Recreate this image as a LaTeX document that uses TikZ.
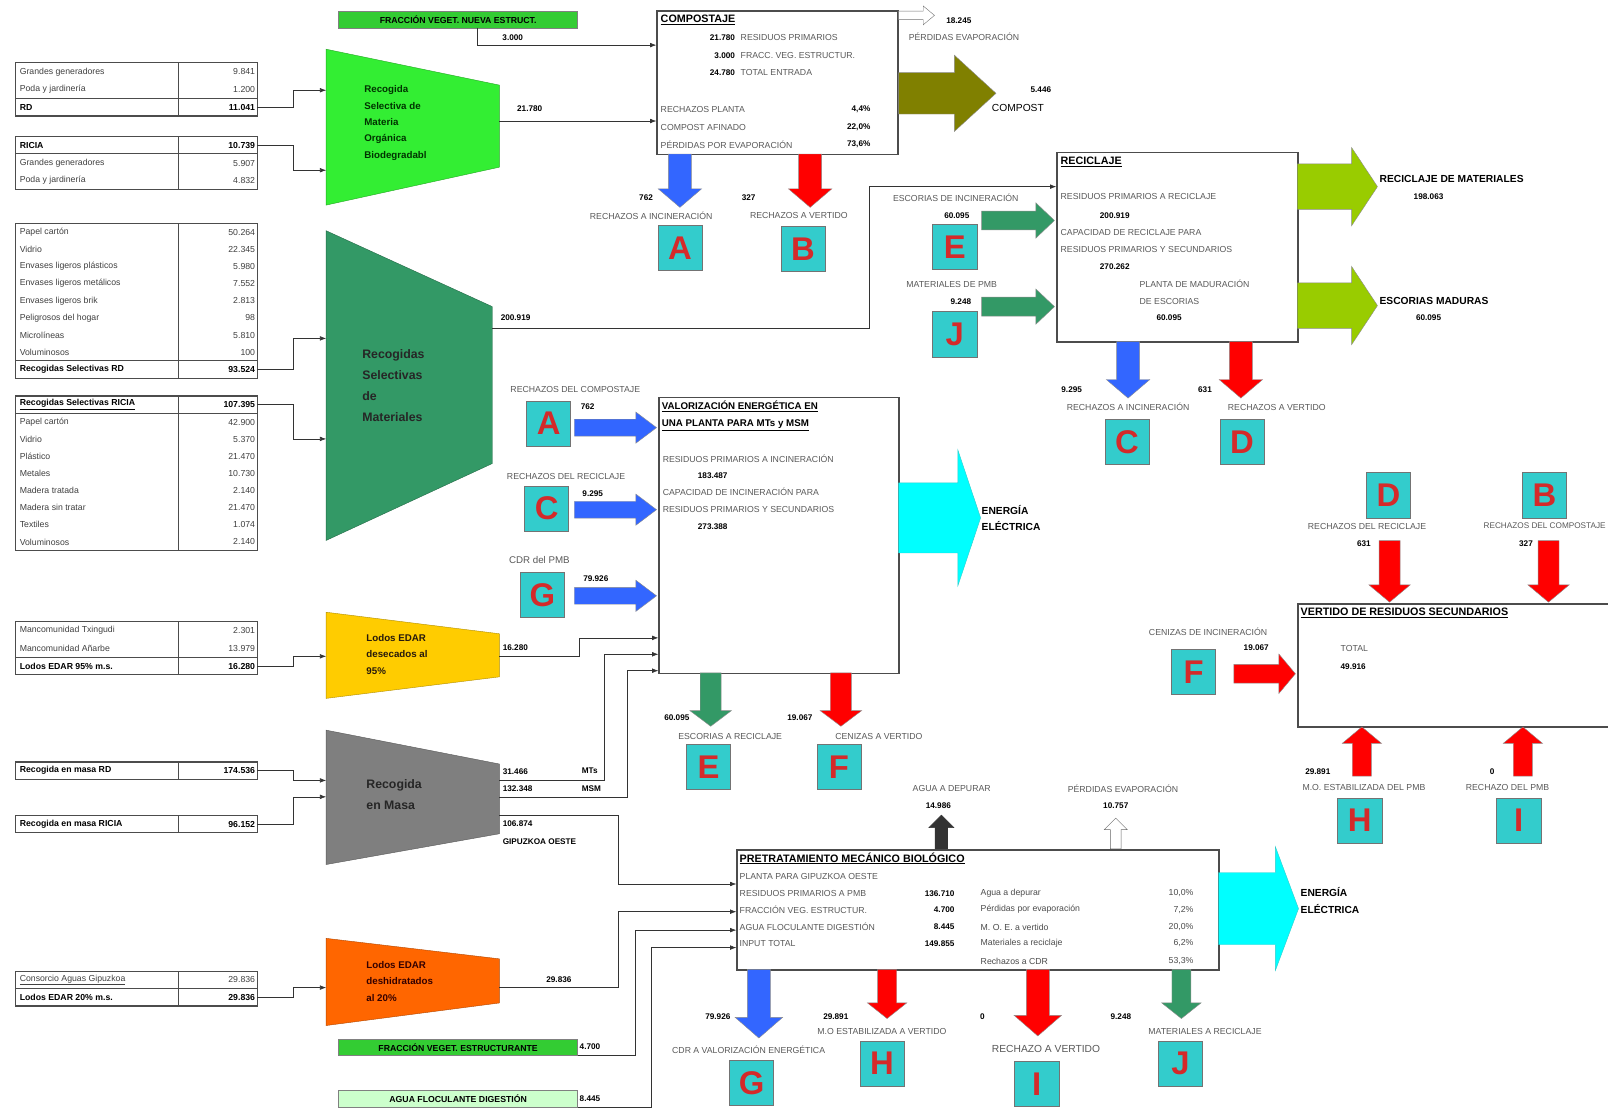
\documentclass[tikz,border=0pt]{standalone}
\usepackage{fontspec}
\setmainfont{Liberation Sans}
\usetikzlibrary{arrows.meta, positioning, shapes.arrows}
\definecolor{cmo}{HTML}{33EE33}
\definecolor{cfrac}{HTML}{33CC33}
\definecolor{cfloc}{HTML}{CCFFCC}
\definecolor{csea}{HTML}{339966}
\definecolor{cyel}{HTML}{FFCC00}
\definecolor{cgray}{HTML}{7F7F7F}
\definecolor{corg}{HTML}{FF6600}
\definecolor{colive}{HTML}{808000}
\definecolor{clime}{HTML}{99CC00}
\definecolor{ccyan}{HTML}{00FFFF}
\definecolor{cblue}{HTML}{3366FF}
\definecolor{cred}{HTML}{FF0000}
\definecolor{cteal}{HTML}{33CCCC}
\definecolor{cletter}{HTML}{D42A2A}
\definecolor{cdark}{HTML}{333333}
\tikzset{
  every picture/.style={line width=0.6pt},
  cell/.style={anchor=west, inner sep=1pt, text=black!75, font=\fontsize{8.5}{9}\selectfont},
  cellb/.style={cell, text=black, font=\fontsize{8.5}{9}\selectfont\bfseries},
  cellv/.style={cell, anchor=east, inner sep=2pt},
  cellbv/.style={cellb, anchor=east, inner sep=2pt},
  tbl/.style={draw=black!70, line width=1.3pt},
  tabsep/.style={draw=black!70, line width=1pt},
  lbl/.style={inner sep=1pt, text=black!65, font=\fontsize{8.5}{9}\selectfont},
  num/.style={inner sep=1pt, font=\fontsize{8}{9}\selectfont\bfseries},
  ttl/.style={anchor=west, inner sep=1pt, font=\fontsize{10.5}{12}\selectfont\bfseries},
  trap/.style={anchor=west, align=left, inner sep=0pt, font=\fontsize{9.5}{16}\selectfont\bfseries},
  proc/.style={draw=black!70, line width=1.5pt, fill=white, anchor=north west, inner sep=0pt},
  letterbox/.style={draw=black!55, line width=0.6pt, fill=cteal, minimum width=43, minimum height=44, inner sep=0pt, text=cletter, font=\fontsize{32}{32}\selectfont\bfseries},
  conn/.style={-{Latex[length=6pt, width=4.5pt]}, draw=black!80, line width=0.6pt},
  barrow/.style n args={4}{single arrow, anchor=tail, draw=black!45, line width=0.4pt,
    inner xsep=0pt, inner ysep=#2, minimum height=#1,
    single arrow head extend=#3, single arrow tip angle=#4},
  tagbox/.style={draw=black!50, line width=0.5pt, anchor=north west, inner sep=0pt, minimum width=233, minimum height=16},
}
\begin{document}
\begin{tikzpicture}[x=1pt, y=-1pt,
  big/.style={anchor=west, inner sep=1pt, font=\fontsize{10}{16}\selectfont\bfseries, align=left},
  mixed/.style={anchor=west, inner sep=1pt, text=black!70, font=\fontsize{8.5}{9}\selectfont}]
  \fill[white] (0,0) rectangle (1568,1081);
  \useasboundingbox (0,0) rectangle (1568,1081);

  % source tables
  \draw[tbl] (15,61) rectangle (251,113);
  \draw[tbl] (174,61) -- (174,113);
  \draw[tabsep] (15,96) -- (251,96);
  \node[cell] (t1a) at (18,70) {Grandes generadores};
  \node[cellv] (t1a-v) at (251,70) {9.841};
  \node[cell] (t1b) at (18,87) {Poda y jardinería};
  \node[cellv] (t1b-v) at (251,87) {1.200};
  \node[cellb] (t1c) at (18,104.5) {RD};
  \node[cellbv] (t1c-v) at (251,104.5) {11.041};

  \draw[tbl] (15,133) rectangle (251,185);
  \draw[tbl] (174,133) -- (174,185);
  \draw[tabsep] (15,150) -- (251,150);
  \node[cellb] (t2a) at (18,141.5) {RICIA};
  \node[cellbv] (t2a-v) at (251,141.5) {10.739};
  \node[cell] (t2b) at (18,159) {Grandes generadores};
  \node[cellv] (t2b-v) at (251,159) {5.907};
  \node[cell] (t2c) at (18,176) {Poda y jardinería};
  \node[cellv] (t2c-v) at (251,176) {4.832};

  \draw[tbl] (15,218) rectangle (251,369);
  \draw[tbl] (174,218) -- (174,369);
  \draw[tabsep] (15,352) -- (251,352);
  \node[cell] (t3a) at (18,226.5) {Papel cartón};
  \node[cellv] (t3a-v) at (251,226.5) {50.264};
  \node[cell] (t3b) at (18,243.2) {Vidrio};
  \node[cellv] (t3b-v) at (251,243.2) {22.345};
  \node[cell] (t3c) at (18,259.9) {Envases ligeros plásticos};
  \node[cellv] (t3c-v) at (251,259.9) {5.980};
  \node[cell] (t3d) at (18,276.6) {Envases ligeros metálicos};
  \node[cellv] (t3d-v) at (251,276.6) {7.552};
  \node[cell] (t3e) at (18,293.3) {Envases ligeros brik};
  \node[cellv] (t3e-v) at (251,293.3) {2.813};
  \node[cell] (t3f) at (18,310) {Peligrosos del hogar};
  \node[cellv] (t3f-v) at (251,310) {98};
  \node[cell] (t3g) at (18,326.7) {Microlíneas};
  \node[cellv] (t3g-v) at (251,326.7) {5.810};
  \node[cell] (t3h) at (18,343.4) {Voluminosos};
  \node[cellv] (t3h-v) at (251,343.4) {100};
  \node[cellb] (t3i) at (18,360.5) {Recogidas Selectivas RD};
  \node[cellbv] (t3i-v) at (251,360.5) {93.524};

  \draw[tbl] (15,386) rectangle (251,537);
  \draw[tbl] (174,386) -- (174,537);
  \draw[tabsep] (15,403) -- (251,403);
  \node[cellb] (t4a) at (18,394.5) {\underline{Recogidas Selectivas RICIA}};
  \node[cellbv] (t4a-v) at (251,394.5) {107.395};
  \node[cell] (t4b) at (18,411.5) {Papel cartón};
  \node[cellv] (t4b-v) at (251,411.5) {42.900};
  \node[cell] (t4c) at (18,428.2) {Vidrio};
  \node[cellv] (t4c-v) at (251,428.2) {5.370};
  \node[cell] (t4d) at (18,444.9) {Plástico};
  \node[cellv] (t4d-v) at (251,444.9) {21.470};
  \node[cell] (t4e) at (18,461.6) {Metales};
  \node[cellv] (t4e-v) at (251,461.6) {10.730};
  \node[cell] (t4f) at (18,478.3) {Madera tratada};
  \node[cellv] (t4f-v) at (251,478.3) {2.140};
  \node[cell] (t4g) at (18,495) {Madera sin tratar};
  \node[cellv] (t4g-v) at (251,495) {21.470};
  \node[cell] (t4h) at (18,511.7) {Textiles};
  \node[cellv] (t4h-v) at (251,511.7) {1.074};
  \node[cell] (t4i) at (18,528.4) {Voluminosos};
  \node[cellv] (t4i-v) at (251,528.4) {2.140};

  \draw[tbl] (15,606) rectangle (251,658);
  \draw[tbl] (174,606) -- (174,658);
  \draw[tabsep] (15,641) -- (251,641);
  \node[cell] (t5a) at (18,615) {Mancomunidad Txingudi};
  \node[cellv] (t5a-v) at (251,615) {2.301};
  \node[cell] (t5b) at (18,632) {Mancomunidad Añarbe};
  \node[cellv] (t5b-v) at (251,632) {13.979};
  \node[cellb] (t5c) at (18,649.5) {Lodos EDAR 95\% m.s.};
  \node[cellbv] (t5c-v) at (251,649.5) {16.280};

  \draw[tbl] (15,743) rectangle (251,760);
  \draw[tbl] (174,743) -- (174,760);
  \node[cellb] (t6a) at (18,751.5) {Recogida en masa RD};
  \node[cellbv] (t6a-v) at (251,751.5) {174.536};

  \draw[tbl] (15,795) rectangle (251,812);
  \draw[tbl] (174,795) -- (174,812);
  \node[cellb] (t7a) at (18,803.5) {Recogida en masa RICIA};
  \node[cellbv] (t7a-v) at (251,803.5) {96.152};

  \draw[tbl] (15,947) rectangle (251,981);
  \draw[tbl] (174,947) -- (174,981);
  \draw[tabsep] (15,964) -- (251,964);
  \node[cell] (t8a) at (18,955.5) {\underline{Consorcio Aguas Gipuzkoa}};
  \node[cellv] (t8a-v) at (251,955.5) {29.836};
  \node[cellb] (t8b) at (18,972.5) {Lodos EDAR 20\% m.s.};
  \node[cellbv] (t8b-v) at (251,972.5) {29.836};

  % collection funnels
  \fill[cmo, draw=cmo!70!black, line width=0.4pt] (318,48) -- (487,83) -- (487,163) -- (318,200) -- cycle;
  \node[trap, text=black!80!green] (mo-txt) at (355,120) {Recogida\\Selectiva de\\Materia\\Orgánica\\Biodegradabl};
  \fill[csea, draw=csea!70!black, line width=0.4pt] (318,225) -- (480,299) -- (480,452) -- (318,527) -- cycle;
  \node[trap, text=black!85, font=\fontsize{12}{20.5}\selectfont\bfseries] (ma-txt) at (353,376) {Recogidas\\Selectivas\\de\\Materiales};
  \fill[cyel, draw=cyel!70!black, line width=0.4pt] (318,597) -- (487,618) -- (487,660) -- (318,681) -- cycle;
  \node[trap, text=black!80!brown] (ly-txt) at (357,638) {Lodos EDAR\\desecados al\\95\%};
  \fill[cgray, draw=cgray!70!black, line width=0.4pt] (318,712) -- (487,745) -- (487,813) -- (318,843) -- cycle;
  \node[trap, text=black!85, font=\fontsize{12}{20}\selectfont\bfseries] (rm-txt) at (357,775) {Recogida\\en Masa};
  \fill[corg, draw=corg!70!black, line width=0.4pt] (318,915) -- (487,935) -- (487,978) -- (318,1000) -- cycle;
  \node[trap, text=black!80!red] (lo-txt) at (357,957) {Lodos EDAR\\deshidratados\\al 20\%};

  \coordinate (mo-in1) at (318,88);
  \coordinate (mo-in2) at (318,166);
  \coordinate (ma-in1) at (318,330);
  \coordinate (ma-in2) at (318,428);
  \coordinate (ly-in) at (318,640);
  \coordinate (rm-in1) at (318,761);
  \coordinate (rm-in2) at (318,777);
  \coordinate (lo-in) at (318,963);
  \coordinate (mo-out) at (487,118);
  \coordinate (ma-out) at (480,320);
  \coordinate (ly-out) at (487,640);
  \coordinate (rm-out1) at (487,761);
  \coordinate (rm-out2) at (487,777);
  \coordinate (rm-out3) at (487,795);
  \coordinate (lo-out) at (487,963);

  \draw[conn] (t1c-v.east) -- ++(35,0) |- (mo-in1);
  \draw[conn] (t2a-v.east) -- ++(35,0) |- (mo-in2);
  \draw[conn] (t3i-v.east) -- ++(35,0) |- (ma-in1);
  \draw[conn] (t4a-v.east) -- ++(35,0) |- (ma-in2);
  \draw[conn] (t5c-v.east) -- ++(35,0) |- (ly-in);
  \draw[conn] (t6a-v.east) -- ++(35,0) |- (rm-in1);
  \draw[conn] (t7a-v.east) -- ++(35,0) |- (rm-in2);
  \draw[conn] (t8b-v.east) -- ++(35,0) |- (lo-in);

  % compostaje
  \node[tagbox, fill=cfrac, font=\fontsize{8.5}{9}\selectfont\bfseries] (fvn) at (330,11) {FRACCIÓN VEGET. NUEVA ESTRUCT.};
  \node[proc, minimum width=235, minimum height=140] (comp) at (640,10) {};
  \coordinate (fvn-out) at (465,27);
  \coordinate (comp-in1) at (640,44);
  \coordinate (comp-in2) at (640,118);
  \node[num] (n-fvn) at (500,37) {3.000};
  \draw[conn] (fvn-out) |- (comp-in1);
  \node[num, anchor=west] (n-mo) at (503,106) {21.780};
  \draw[conn] (mo-out) -- (comp-in2);
  \node[ttl] (comp-t) at (643,19) {\underline{COMPOSTAJE}};
  \node[num, anchor=east] (comp-n1) at (718,37) {21.780};
  \node[lbl, anchor=west] (comp-l1) at (721,37) {RESIDUOS PRIMARIOS};
  \node[num, anchor=east] (comp-n2) at (718,54) {3.000};
  \node[lbl, anchor=west] (comp-l2) at (721,54) {FRACC. VEG. ESTRUCTUR.};
  \node[num, anchor=east] (comp-n3) at (718,71) {24.780};
  \node[lbl, anchor=west] (comp-l3) at (721,71) {TOTAL ENTRADA};
  \node[lbl, anchor=west] (comp-l4) at (643,107) {RECHAZOS PLANTA};
  \node[num, anchor=east] (comp-p4) at (850,107) {4,4\%};
  \node[lbl, anchor=west] (comp-l5) at (643,124) {COMPOST AFINADO};
  \node[num, anchor=east] (comp-p5) at (850,124) {22,0\%};
  \node[lbl, anchor=west] (comp-l6) at (643,141) {PÉRDIDAS POR EVAPORACIÓN};
  \node[num, anchor=east] (comp-p6) at (850,141) {73,6\%};
  \node[barrow={35}{4}{5}{80}, fill=white, draw=black!55] (comp-evap) at (876,15) {};
  \node[num] (n-evap) at (935,20) {18.245};
  \node[lbl] (l-evap) at (940,36) {PÉRDIDAS EVAPORACIÓN};
  \node[barrow={95}{20}{17}{85}, fill=colive] (comp-out) at (876,91) {};
  \node[num] (n-compost) at (1015,87) {5.446};
  \node[anchor=west, inner sep=1pt, font=\fontsize{10}{12}\selectfont] (l-compost) at (966,105) {COMPOST};
  \node[barrow={52}{11}{10}{99}, fill=cblue, rotate=-90] (comp-inc) at (663,150) {};
  \node[num] (n-a) at (630,193) {762};
  \node[lbl] (l-a) at (635,210) {RECHAZOS A INCINERACIÓN};
  \node[letterbox] (la1) at (663,242) {A};
  \node[barrow={52}{11}{10}{99}, fill=cred, rotate=-90] (comp-ver) at (790,150) {};
  \node[num] (n-b) at (730,193) {327};
  \node[lbl] (l-b) at (779,210) {RECHAZOS A VERTIDO};
  \node[letterbox] (lb1) at (783,243) {B};

  % reciclaje
  \node[proc, minimum width=235, minimum height=185] (rec) at (1030,148) {};
  \coordinate (rec-in) at (1030,182);
  \node[num, anchor=west] (n-ma) at (487,310) {200.919};
  \draw[conn] (ma-out) -- ++(368,0) |- (rec-in);
  \node[ttl] (rec-t) at (1033,158) {\underline{RECICLAJE}};
  \node[lbl, anchor=west] (rec-l1) at (1033,192) {RESIDUOS PRIMARIOS A RECICLAJE};
  \node[num] (rec-n1) at (1087,210) {200.919};
  \node[lbl, anchor=west] (rec-l2) at (1033,227) {CAPACIDAD DE RECICLAJE PARA};
  \node[lbl, anchor=west] (rec-l3) at (1033,243) {RESIDUOS PRIMARIOS Y SECUNDARIOS};
  \node[num] (rec-n2) at (1087,260) {270.262};
  \node[lbl, anchor=west] (rec-l4) at (1110,277) {PLANTA DE MADURACIÓN};
  \node[lbl, anchor=west] (rec-l5) at (1110,294) {DE ESCORIAS};
  \node[num] (rec-n3) at (1140,310) {60.095};
  \node[lbl] (l-e1) at (932,193) {ESCORIAS DE INCINERACIÓN};
  \node[num] (n-e1) at (933,210) {60.095};
  \node[letterbox] (le1) at (931,241) {E};
  \node[barrow={71}{9}{8}{87}, fill=csea] (rec-e) at (957,215) {};
  \node[lbl] (l-j1) at (928,277) {MATERIALES DE PMB};
  \node[num] (n-j1) at (937,294) {9.248};
  \node[letterbox] (lj1) at (931,326) {J};
  \node[barrow={71}{9}{8}{87}, fill=csea] (rec-j) at (957,299) {};
  \node[barrow={78}{22}{16}{113}, fill=clime] (rec-mat) at (1265,182) {};
  \node[big] (l-mat) at (1344,175) {RECICLAJE DE MATERIALES};
  \node[num] (n-mat) at (1393,192) {198.063};
  \node[barrow={78}{22}{16}{113}, fill=clime] (rec-esc) at (1265,298) {};
  \node[big] (l-esc) at (1344,293) {ESCORIAS MADURAS};
  \node[num] (n-esc) at (1393,310) {60.095};
  \node[barrow={55}{11}{10}{99}, fill=cblue, rotate=-90] (rec-inc) at (1100,333) {};
  \node[num] (n-c) at (1045,380) {9.295};
  \node[lbl] (l-c) at (1100,397) {RECHAZOS A INCINERACIÓN};
  \node[letterbox] (lc1) at (1099,431) {C};
  \node[barrow={55}{11}{10}{99}, fill=cred, rotate=-90] (rec-ver) at (1210,333) {};
  \node[num] (n-d) at (1175,380) {631};
  \node[lbl] (l-d) at (1245,397) {RECHAZOS A VERTIDO};
  \node[letterbox] (ld1) at (1211,431) {D};

  % valorizacion energetica
  \node[proc, minimum width=234, minimum height=269] (val) at (642,387) {};
  \coordinate (val-in1) at (642,622);
  \coordinate (val-in2) at (642,638);
  \coordinate (val-in3) at (642,654);
  \node[anchor=north west, inner sep=1pt, align=left, font=\fontsize{9.5}{16.5}\selectfont\bfseries] (val-t) at (644,390) {\underline{VALORIZACIÓN ENERGÉTICA EN}\\\underline{UNA PLANTA PARA MTs y MSM}};
  \node[lbl, anchor=west] (val-l1) at (645,447) {RESIDUOS PRIMARIOS A INCINERACIÓN};
  \node[num] (val-n1) at (695,464) {183.487};
  \node[lbl, anchor=west] (val-l2) at (645,480) {CAPACIDAD DE INCINERACIÓN PARA};
  \node[lbl, anchor=west] (val-l3) at (645,497) {RESIDUOS PRIMARIOS Y SECUNDARIOS};
  \node[num] (val-n2) at (695,514) {273.388};
  \node[lbl] (l-a2) at (561,380) {RECHAZOS DEL COMPOSTAJE};
  \node[num] (n-a2) at (573,397) {762};
  \node[letterbox] (la2) at (535,413) {A};
  \node[barrow={80}{8}{7}{74}, fill=cblue] (val-a) at (560,417) {};
  \node[lbl] (l-c2) at (552,465) {RECHAZOS DEL RECICLAJE};
  \node[num] (n-c2) at (578,481) {9.295};
  \node[letterbox] (lc2) at (533,496) {C};
  \node[barrow={80}{8}{7}{74}, fill=cblue] (val-c) at (560,497) {};
  \node[lbl, font=\fontsize{9.5}{10}\selectfont] (l-g2) at (526,546) {CDR del PMB};
  \node[num] (n-g2) at (581,564) {79.926};
  \node[letterbox] (lg2) at (529,580) {G};
  \node[barrow={80}{8}{7}{74}, fill=cblue] (val-g) at (560,581) {};
  \node[num, anchor=west] (n-ly) at (489,632) {16.280};
  \draw[conn] (ly-out) -- ++(78,0) |- (val-in1);
  \node[barrow={80}{34}{32}{143}, fill=ccyan, draw=cteal] (val-out) at (876,505) {};
  \node[big] (l-en1) at (956,505) {ENERGÍA\\ELÉCTRICA};
  \node[barrow={52}{10}{10}{106}, fill=csea, rotate=-90] (val-esc) at (693,656) {};
  \node[num] (n-e2) at (660,700) {60.095};
  \node[lbl] (l-e2) at (712,718) {ESCORIAS A RECICLAJE};
  \node[letterbox] (le2) at (691,748) {E};
  \node[barrow={52}{10}{10}{106}, fill=cred, rotate=-90] (val-cen) at (820,656) {};
  \node[num] (n-f2) at (780,700) {19.067};
  \node[lbl] (l-f2) at (857,718) {CENIZAS A VERTIDO};
  \node[letterbox] (lf2) at (818,748) {F};

  % mass collection outputs
  \node[num, anchor=west] (n-mts) at (489,752) {31.466};
  \node[num, anchor=west] (l-mts) at (566,752) {MTs};
  \node[num, anchor=west] (n-msm) at (489,769) {132.348};
  \node[num, anchor=west] (l-msm) at (566,769) {MSM};
  \node[num, anchor=west] (n-oes) at (489,803) {106.874};
  \node[num, anchor=west] (l-oes) at (489,821) {GIPUZKOA OESTE};
  \draw[conn] (rm-out1) -- ++(102,0) |- (val-in2);
  \draw[conn] (rm-out2) -- ++(125,0) |- (val-in3);

  % pretratamiento mecanico biologico
  \node[proc, minimum width=470, minimum height=117] (pmb) at (718,828) {};
  \coordinate (pmb-in1) at (718,862);
  \coordinate (pmb-in2) at (718,889);
  \coordinate (pmb-in3) at (718,907);
  \coordinate (pmb-in4) at (718,924);
  \draw[conn] (rm-out3) -- ++(116,0) |- (pmb-in1);
  \node[num] (n-lo) at (545,955) {29.836};
  \draw[conn] (lo-out) -- ++(116,0) |- (pmb-in2);
  \node[tagbox, fill=cfrac, font=\fontsize{8.5}{9}\selectfont\bfseries] (fve) at (330,1013) {FRACCIÓN VEGET. ESTRUCTURANTE};
  \node[num, anchor=west] (n-fve) at (564,1021) {4.700};
  \draw[conn] (fve.south east) -- ++(56,0) |- (pmb-in3);
  \node[tagbox, fill=cfloc, font=\fontsize{8.5}{9}\selectfont\bfseries] (afd) at (330,1063) {AGUA FLOCULANTE DIGESTIÓN};
  \node[num, anchor=west] (n-afd) at (564,1071) {8.445};
  \draw[conn] (afd.south east) -- ++(72,0) |- (pmb-in4);
  \node[ttl] (pmb-t) at (720,837) {\underline{PRETRATAMIENTO MECÁNICO BIOLÓGICO}};
  \node[lbl, anchor=west] (pmb-l0) at (720,855) {PLANTA PARA GIPUZKOA OESTE};
  \node[lbl, anchor=west] (pmb-l1) at (720,871) {RESIDUOS PRIMARIOS A PMB};
  \node[num, anchor=east] (pmb-n1) at (932,871) {136.710};
  \node[lbl, anchor=west] (pmb-l2) at (720,887) {FRACCIÓN VEG. ESTRUCTUR.};
  \node[num, anchor=east] (pmb-n2) at (932,887) {4.700};
  \node[lbl, anchor=west] (pmb-l3) at (720,904) {AGUA FLOCULANTE DIGESTIÓN};
  \node[num, anchor=east] (pmb-n3) at (932,904) {8.445};
  \node[lbl, anchor=west] (pmb-l4) at (720,920) {INPUT TOTAL};
  \node[num, anchor=east] (pmb-n4) at (932,920) {149.855};
  \node[mixed] (pmb-r1) at (955,871) {Agua a depurar};
  \node[mixed, anchor=east] (pmb-p1) at (1165,871) {10,0\%};
  \node[mixed] (pmb-r2) at (955,887) {Pérdidas por evaporación};
  \node[mixed, anchor=east] (pmb-p2) at (1165,887) {7,2\%};
  \node[mixed] (pmb-r3) at (955,904) {M. O. E. a vertido};
  \node[mixed, anchor=east] (pmb-p3) at (1165,904) {20,0\%};
  \node[mixed] (pmb-r4) at (955,920) {Materiales a reciclaje};
  \node[mixed, anchor=east] (pmb-p4) at (1165,920) {6,2\%};
  \node[mixed] (pmb-r5) at (955,937) {Rechazos a CDR};
  \node[mixed, anchor=east] (pmb-p5) at (1165,937) {53,3\%};
  \node[barrow={33}{6}{6}{90}, fill=cdark, draw=cdark, rotate=90] (pmb-agua) at (918,828) {};
  \node[lbl] (l-agua) at (928,769) {AGUA A DEPURAR};
  \node[num] (n-agua) at (915,786) {14.986};
  \node[barrow={30}{5}{6}{90}, fill=white, draw=black!60, rotate=90] (pmb-evap) at (1088,828) {};
  \node[lbl] (l-evap2) at (1095,769) {PÉRDIDAS EVAPORACIÓN};
  \node[num] (n-evap2) at (1088,786) {10.757};
  \node[barrow={78}{35}{25}{139}, fill=ccyan, draw=cteal] (pmb-out) at (1188,886) {};
  \node[big] (l-en2) at (1267,878) {ENERGÍA\\ELÉCTRICA};
  \node[barrow={67}{11}{12}{98}, fill=cblue, rotate=-90] (pmb-cdr) at (740,945) {};
  \node[num] (n-g3) at (700,991) {79.926};
  \node[lbl] (l-g3) at (730,1024) {CDR A VALORIZACIÓN ENERGÉTICA};
  \node[letterbox] (lg3) at (733,1056) {G};
  \node[barrow={48}{9}{10}{103}, fill=cred, rotate=-90] (pmb-moe) at (865,945) {};
  \node[num] (n-h3) at (815,991) {29.891};
  \node[lbl] (l-h3) at (860,1006) {M.O ESTABILIZADA A VERTIDO};
  \node[letterbox] (lh3) at (860,1037) {H};
  \node[barrow={65}{11}{12}{98}, fill=cred, rotate=-90] (pmb-rech) at (1012,945) {};
  \node[num] (n-i3) at (958,991) {0};
  \node[lbl, font=\fontsize{10}{11}\selectfont] (l-i3) at (1020,1023) {RECHAZO A VERTIDO};
  \node[letterbox] (li3) at (1011,1057) {I};
  \node[barrow={48}{9}{10}{103}, fill=csea, rotate=-90] (pmb-mat) at (1152,945) {};
  \node[num] (n-j3) at (1093,991) {9.248};
  \node[lbl] (l-j3) at (1175,1006) {MATERIALES A RECICLAJE};
  \node[letterbox] (lj3) at (1151,1037) {J};

  % vertido de residuos secundarios
  \node[proc, minimum width=330, minimum height=120] (vert) at (1265,588) {};
  \node[ttl] (vert-t) at (1267,598) {\underline{VERTIDO DE RESIDUOS SECUNDARIOS}};
  \node[lbl, anchor=west] (vert-l) at (1306,632) {TOTAL};
  \node[num, anchor=west] (vert-n) at (1306,650) {49.916};
  \node[letterbox] (ld4) at (1354,483) {D};
  \node[lbl] (l-d4) at (1333,513) {RECHAZOS DEL RECICLAJE};
  \node[num] (n-d4) at (1330,530) {631};
  \node[barrow={60}{10}{10}{100}, fill=cred, rotate=-90] (vert-d) at (1355,527) {};
  \node[letterbox] (lb4) at (1506,483) {B};
  \node[lbl, anchor=east, font=\fontsize{8}{9}\selectfont] (l-b4) at (1567,513) {RECHAZOS DEL COMPOSTAJE};
  \node[num] (n-b4) at (1488,530) {327};
  \node[barrow={60}{10}{10}{100}, fill=cred, rotate=-90] (vert-b) at (1510,527) {};
  \node[letterbox] (lf4) at (1164,655) {F};
  \node[lbl] (l-f4) at (1178,616) {CENIZAS DE INCINERACIÓN};
  \node[num] (n-f4) at (1225,632) {19.067};
  \node[barrow={60}{9}{10}{100}, fill=cred] (vert-f) at (1203,657) {};
  \node[barrow={48}{9}{10}{100}, fill=cred, rotate=90] (vert-h) at (1328,757) {};
  \node[num] (n-h4) at (1285,752) {29.891};
  \node[lbl] (l-h4) at (1330,768) {M.O. ESTABILIZADA DEL PMB};
  \node[letterbox] (lh4) at (1326,800) {H};
  \node[barrow={48}{9}{10}{100}, fill=cred, rotate=90] (vert-i) at (1485,757) {};
  \node[num] (n-i4) at (1455,752) {0};
  \node[lbl] (l-i4) at (1470,768) {RECHAZO DEL PMB};
  \node[letterbox] (li4) at (1481,800) {I};
\end{tikzpicture}
\end{document}
